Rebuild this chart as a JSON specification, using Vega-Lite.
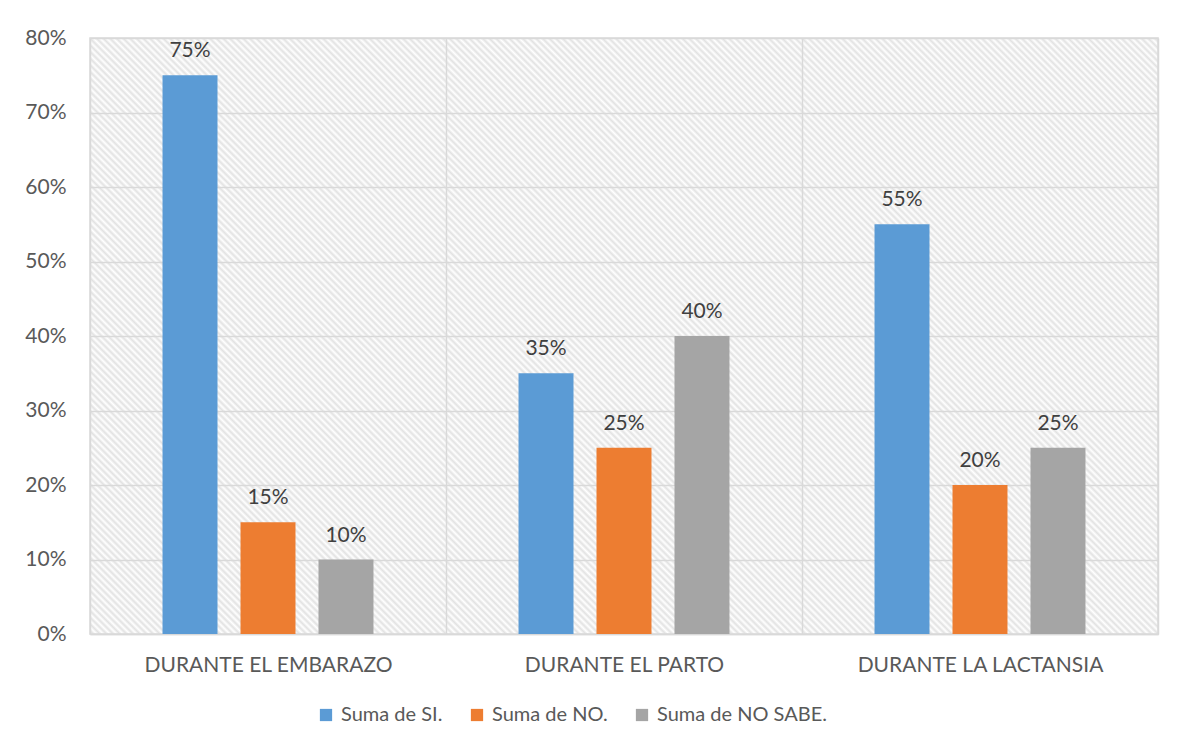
{
  "$schema": "https://vega.github.io/schema/vega-lite/v6.json",
  "width": 1068,
  "height": 596,
  "autosize": {"type": "none"},
  "padding": {"left": 90, "top": 38, "right": 30, "bottom": 119},
  "background": "white",
  "config": {
    "font": "Lato",
    "view": {"stroke": "#d9d9d9", "strokeWidth": 1.5, "fill": {"gradient": "linear", "x1": 0, "y1": 1, "x2": 1.188, "y2": 0.337, "stops": [
{"offset":0,"color":"#fff"},{"offset":0.002,"color":"#e2e2e2"},{"offset":0.004,"color":"#fff"},{"offset":0.006,"color":"#e2e2e2"},{"offset":0.008,"color":"#fff"},{"offset":0.01,"color":"#e2e2e2"},{"offset":0.012,"color":"#fff"},{"offset":0.014,"color":"#e2e2e2"},{"offset":0.016,"color":"#fff"},{"offset":0.018,"color":"#e2e2e2"},
{"offset":0.02,"color":"#fff"},{"offset":0.022,"color":"#e2e2e2"},{"offset":0.024,"color":"#fff"},{"offset":0.026,"color":"#e2e2e2"},{"offset":0.028,"color":"#fff"},{"offset":0.03,"color":"#e2e2e2"},{"offset":0.032,"color":"#fff"},{"offset":0.034,"color":"#e2e2e2"},{"offset":0.036,"color":"#fff"},{"offset":0.038,"color":"#e2e2e2"},
{"offset":0.04,"color":"#fff"},{"offset":0.042,"color":"#e2e2e2"},{"offset":0.044,"color":"#fff"},{"offset":0.046,"color":"#e2e2e2"},{"offset":0.048,"color":"#fff"},{"offset":0.05,"color":"#e2e2e2"},{"offset":0.052,"color":"#fff"},{"offset":0.054,"color":"#e2e2e2"},{"offset":0.056,"color":"#fff"},{"offset":0.058,"color":"#e2e2e2"},
{"offset":0.06,"color":"#fff"},{"offset":0.062,"color":"#e2e2e2"},{"offset":0.064,"color":"#fff"},{"offset":0.066,"color":"#e2e2e2"},{"offset":0.068,"color":"#fff"},{"offset":0.07,"color":"#e2e2e2"},{"offset":0.072,"color":"#fff"},{"offset":0.074,"color":"#e2e2e2"},{"offset":0.076,"color":"#fff"},{"offset":0.078,"color":"#e2e2e2"},
{"offset":0.08,"color":"#fff"},{"offset":0.082,"color":"#e2e2e2"},{"offset":0.084,"color":"#fff"},{"offset":0.086,"color":"#e2e2e2"},{"offset":0.088,"color":"#fff"},{"offset":0.09,"color":"#e2e2e2"},{"offset":0.092,"color":"#fff"},{"offset":0.094,"color":"#e2e2e2"},{"offset":0.096,"color":"#fff"},{"offset":0.098,"color":"#e2e2e2"},
{"offset":0.1,"color":"#fff"},{"offset":0.102,"color":"#e2e2e2"},{"offset":0.104,"color":"#fff"},{"offset":0.106,"color":"#e2e2e2"},{"offset":0.108,"color":"#fff"},{"offset":0.11,"color":"#e2e2e2"},{"offset":0.112,"color":"#fff"},{"offset":0.114,"color":"#e2e2e2"},{"offset":0.116,"color":"#fff"},{"offset":0.118,"color":"#e2e2e2"},
{"offset":0.12,"color":"#fff"},{"offset":0.122,"color":"#e2e2e2"},{"offset":0.124,"color":"#fff"},{"offset":0.126,"color":"#e2e2e2"},{"offset":0.128,"color":"#fff"},{"offset":0.13,"color":"#e2e2e2"},{"offset":0.132,"color":"#fff"},{"offset":0.134,"color":"#e2e2e2"},{"offset":0.136,"color":"#fff"},{"offset":0.138,"color":"#e2e2e2"},
{"offset":0.14,"color":"#fff"},{"offset":0.142,"color":"#e2e2e2"},{"offset":0.144,"color":"#fff"},{"offset":0.146,"color":"#e2e2e2"},{"offset":0.148,"color":"#fff"},{"offset":0.15,"color":"#e2e2e2"},{"offset":0.152,"color":"#fff"},{"offset":0.154,"color":"#e2e2e2"},{"offset":0.156,"color":"#fff"},{"offset":0.158,"color":"#e2e2e2"},
{"offset":0.16,"color":"#fff"},{"offset":0.162,"color":"#e2e2e2"},{"offset":0.164,"color":"#fff"},{"offset":0.166,"color":"#e2e2e2"},{"offset":0.168,"color":"#fff"},{"offset":0.17,"color":"#e2e2e2"},{"offset":0.172,"color":"#fff"},{"offset":0.174,"color":"#e2e2e2"},{"offset":0.176,"color":"#fff"},{"offset":0.178,"color":"#e2e2e2"},
{"offset":0.18,"color":"#fff"},{"offset":0.182,"color":"#e2e2e2"},{"offset":0.184,"color":"#fff"},{"offset":0.186,"color":"#e2e2e2"},{"offset":0.188,"color":"#fff"},{"offset":0.19,"color":"#e2e2e2"},{"offset":0.192,"color":"#fff"},{"offset":0.194,"color":"#e2e2e2"},{"offset":0.196,"color":"#fff"},{"offset":0.198,"color":"#e2e2e2"},
{"offset":0.2,"color":"#fff"},{"offset":0.202,"color":"#e2e2e2"},{"offset":0.204,"color":"#fff"},{"offset":0.206,"color":"#e2e2e2"},{"offset":0.208,"color":"#fff"},{"offset":0.21,"color":"#e2e2e2"},{"offset":0.212,"color":"#fff"},{"offset":0.214,"color":"#e2e2e2"},{"offset":0.216,"color":"#fff"},{"offset":0.218,"color":"#e2e2e2"},
{"offset":0.22,"color":"#fff"},{"offset":0.222,"color":"#e2e2e2"},{"offset":0.224,"color":"#fff"},{"offset":0.226,"color":"#e2e2e2"},{"offset":0.228,"color":"#fff"},{"offset":0.23,"color":"#e2e2e2"},{"offset":0.232,"color":"#fff"},{"offset":0.234,"color":"#e2e2e2"},{"offset":0.236,"color":"#fff"},{"offset":0.238,"color":"#e2e2e2"},
{"offset":0.24,"color":"#fff"},{"offset":0.242,"color":"#e2e2e2"},{"offset":0.244,"color":"#fff"},{"offset":0.246,"color":"#e2e2e2"},{"offset":0.248,"color":"#fff"},{"offset":0.25,"color":"#e2e2e2"},{"offset":0.252,"color":"#fff"},{"offset":0.254,"color":"#e2e2e2"},{"offset":0.256,"color":"#fff"},{"offset":0.258,"color":"#e2e2e2"},
{"offset":0.26,"color":"#fff"},{"offset":0.262,"color":"#e2e2e2"},{"offset":0.264,"color":"#fff"},{"offset":0.266,"color":"#e2e2e2"},{"offset":0.268,"color":"#fff"},{"offset":0.27,"color":"#e2e2e2"},{"offset":0.272,"color":"#fff"},{"offset":0.274,"color":"#e2e2e2"},{"offset":0.276,"color":"#fff"},{"offset":0.278,"color":"#e2e2e2"},
{"offset":0.28,"color":"#fff"},{"offset":0.282,"color":"#e2e2e2"},{"offset":0.284,"color":"#fff"},{"offset":0.286,"color":"#e2e2e2"},{"offset":0.288,"color":"#fff"},{"offset":0.29,"color":"#e2e2e2"},{"offset":0.292,"color":"#fff"},{"offset":0.294,"color":"#e2e2e2"},{"offset":0.296,"color":"#fff"},{"offset":0.298,"color":"#e2e2e2"},
{"offset":0.3,"color":"#fff"},{"offset":0.302,"color":"#e2e2e2"},{"offset":0.304,"color":"#fff"},{"offset":0.306,"color":"#e2e2e2"},{"offset":0.308,"color":"#fff"},{"offset":0.31,"color":"#e2e2e2"},{"offset":0.312,"color":"#fff"},{"offset":0.314,"color":"#e2e2e2"},{"offset":0.316,"color":"#fff"},{"offset":0.318,"color":"#e2e2e2"},
{"offset":0.32,"color":"#fff"},{"offset":0.322,"color":"#e2e2e2"},{"offset":0.324,"color":"#fff"},{"offset":0.326,"color":"#e2e2e2"},{"offset":0.328,"color":"#fff"},{"offset":0.33,"color":"#e2e2e2"},{"offset":0.332,"color":"#fff"},{"offset":0.334,"color":"#e2e2e2"},{"offset":0.336,"color":"#fff"},{"offset":0.338,"color":"#e2e2e2"},
{"offset":0.34,"color":"#fff"},{"offset":0.342,"color":"#e2e2e2"},{"offset":0.344,"color":"#fff"},{"offset":0.346,"color":"#e2e2e2"},{"offset":0.348,"color":"#fff"},{"offset":0.35,"color":"#e2e2e2"},{"offset":0.352,"color":"#fff"},{"offset":0.354,"color":"#e2e2e2"},{"offset":0.356,"color":"#fff"},{"offset":0.358,"color":"#e2e2e2"},
{"offset":0.36,"color":"#fff"},{"offset":0.362,"color":"#e2e2e2"},{"offset":0.364,"color":"#fff"},{"offset":0.366,"color":"#e2e2e2"},{"offset":0.368,"color":"#fff"},{"offset":0.37,"color":"#e2e2e2"},{"offset":0.372,"color":"#fff"},{"offset":0.374,"color":"#e2e2e2"},{"offset":0.376,"color":"#fff"},{"offset":0.378,"color":"#e2e2e2"},
{"offset":0.38,"color":"#fff"},{"offset":0.382,"color":"#e2e2e2"},{"offset":0.384,"color":"#fff"},{"offset":0.386,"color":"#e2e2e2"},{"offset":0.388,"color":"#fff"},{"offset":0.39,"color":"#e2e2e2"},{"offset":0.392,"color":"#fff"},{"offset":0.394,"color":"#e2e2e2"},{"offset":0.396,"color":"#fff"},{"offset":0.398,"color":"#e2e2e2"},
{"offset":0.4,"color":"#fff"},{"offset":0.402,"color":"#e2e2e2"},{"offset":0.404,"color":"#fff"},{"offset":0.406,"color":"#e2e2e2"},{"offset":0.408,"color":"#fff"},{"offset":0.41,"color":"#e2e2e2"},{"offset":0.412,"color":"#fff"},{"offset":0.414,"color":"#e2e2e2"},{"offset":0.416,"color":"#fff"},{"offset":0.418,"color":"#e2e2e2"},
{"offset":0.42,"color":"#fff"},{"offset":0.422,"color":"#e2e2e2"},{"offset":0.424,"color":"#fff"},{"offset":0.426,"color":"#e2e2e2"},{"offset":0.428,"color":"#fff"},{"offset":0.43,"color":"#e2e2e2"},{"offset":0.432,"color":"#fff"},{"offset":0.434,"color":"#e2e2e2"},{"offset":0.436,"color":"#fff"},{"offset":0.438,"color":"#e2e2e2"},
{"offset":0.44,"color":"#fff"},{"offset":0.442,"color":"#e2e2e2"},{"offset":0.444,"color":"#fff"},{"offset":0.446,"color":"#e2e2e2"},{"offset":0.448,"color":"#fff"},{"offset":0.45,"color":"#e2e2e2"},{"offset":0.452,"color":"#fff"},{"offset":0.454,"color":"#e2e2e2"},{"offset":0.456,"color":"#fff"},{"offset":0.458,"color":"#e2e2e2"},
{"offset":0.46,"color":"#fff"},{"offset":0.462,"color":"#e2e2e2"},{"offset":0.464,"color":"#fff"},{"offset":0.466,"color":"#e2e2e2"},{"offset":0.468,"color":"#fff"},{"offset":0.47,"color":"#e2e2e2"},{"offset":0.472,"color":"#fff"},{"offset":0.474,"color":"#e2e2e2"},{"offset":0.476,"color":"#fff"},{"offset":0.478,"color":"#e2e2e2"},
{"offset":0.48,"color":"#fff"},{"offset":0.482,"color":"#e2e2e2"},{"offset":0.484,"color":"#fff"},{"offset":0.486,"color":"#e2e2e2"},{"offset":0.488,"color":"#fff"},{"offset":0.49,"color":"#e2e2e2"},{"offset":0.492,"color":"#fff"},{"offset":0.494,"color":"#e2e2e2"},{"offset":0.496,"color":"#fff"},{"offset":0.498,"color":"#e2e2e2"},
{"offset":0.5,"color":"#fff"},{"offset":0.502,"color":"#e2e2e2"},{"offset":0.504,"color":"#fff"},{"offset":0.506,"color":"#e2e2e2"},{"offset":0.508,"color":"#fff"},{"offset":0.51,"color":"#e2e2e2"},{"offset":0.512,"color":"#fff"},{"offset":0.514,"color":"#e2e2e2"},{"offset":0.516,"color":"#fff"},{"offset":0.518,"color":"#e2e2e2"},
{"offset":0.52,"color":"#fff"},{"offset":0.522,"color":"#e2e2e2"},{"offset":0.524,"color":"#fff"},{"offset":0.526,"color":"#e2e2e2"},{"offset":0.528,"color":"#fff"},{"offset":0.53,"color":"#e2e2e2"},{"offset":0.532,"color":"#fff"},{"offset":0.534,"color":"#e2e2e2"},{"offset":0.536,"color":"#fff"},{"offset":0.538,"color":"#e2e2e2"},
{"offset":0.54,"color":"#fff"},{"offset":0.542,"color":"#e2e2e2"},{"offset":0.544,"color":"#fff"},{"offset":0.546,"color":"#e2e2e2"},{"offset":0.548,"color":"#fff"},{"offset":0.55,"color":"#e2e2e2"},{"offset":0.552,"color":"#fff"},{"offset":0.554,"color":"#e2e2e2"},{"offset":0.556,"color":"#fff"},{"offset":0.558,"color":"#e2e2e2"},
{"offset":0.56,"color":"#fff"},{"offset":0.562,"color":"#e2e2e2"},{"offset":0.564,"color":"#fff"},{"offset":0.566,"color":"#e2e2e2"},{"offset":0.568,"color":"#fff"},{"offset":0.57,"color":"#e2e2e2"},{"offset":0.572,"color":"#fff"},{"offset":0.574,"color":"#e2e2e2"},{"offset":0.576,"color":"#fff"},{"offset":0.578,"color":"#e2e2e2"},
{"offset":0.58,"color":"#fff"},{"offset":0.582,"color":"#e2e2e2"},{"offset":0.584,"color":"#fff"},{"offset":0.586,"color":"#e2e2e2"},{"offset":0.588,"color":"#fff"},{"offset":0.59,"color":"#e2e2e2"},{"offset":0.592,"color":"#fff"},{"offset":0.594,"color":"#e2e2e2"},{"offset":0.596,"color":"#fff"},{"offset":0.598,"color":"#e2e2e2"},
{"offset":0.6,"color":"#fff"},{"offset":0.602,"color":"#e2e2e2"},{"offset":0.604,"color":"#fff"},{"offset":0.606,"color":"#e2e2e2"},{"offset":0.608,"color":"#fff"},{"offset":0.61,"color":"#e2e2e2"},{"offset":0.612,"color":"#fff"},{"offset":0.614,"color":"#e2e2e2"},{"offset":0.616,"color":"#fff"},{"offset":0.618,"color":"#e2e2e2"},
{"offset":0.62,"color":"#fff"},{"offset":0.622,"color":"#e2e2e2"},{"offset":0.624,"color":"#fff"},{"offset":0.626,"color":"#e2e2e2"},{"offset":0.628,"color":"#fff"},{"offset":0.63,"color":"#e2e2e2"},{"offset":0.632,"color":"#fff"},{"offset":0.634,"color":"#e2e2e2"},{"offset":0.636,"color":"#fff"},{"offset":0.638,"color":"#e2e2e2"},
{"offset":0.64,"color":"#fff"},{"offset":0.642,"color":"#e2e2e2"},{"offset":0.644,"color":"#fff"},{"offset":0.646,"color":"#e2e2e2"},{"offset":0.648,"color":"#fff"},{"offset":0.65,"color":"#e2e2e2"},{"offset":0.652,"color":"#fff"},{"offset":0.654,"color":"#e2e2e2"},{"offset":0.656,"color":"#fff"},{"offset":0.658,"color":"#e2e2e2"},
{"offset":0.66,"color":"#fff"},{"offset":0.662,"color":"#e2e2e2"},{"offset":0.664,"color":"#fff"},{"offset":0.666,"color":"#e2e2e2"},{"offset":0.668,"color":"#fff"},{"offset":0.67,"color":"#e2e2e2"},{"offset":0.672,"color":"#fff"},{"offset":0.674,"color":"#e2e2e2"},{"offset":0.676,"color":"#fff"},{"offset":0.678,"color":"#e2e2e2"},
{"offset":0.68,"color":"#fff"},{"offset":0.682,"color":"#e2e2e2"},{"offset":0.684,"color":"#fff"},{"offset":0.686,"color":"#e2e2e2"},{"offset":0.688,"color":"#fff"},{"offset":0.69,"color":"#e2e2e2"},{"offset":0.692,"color":"#fff"},{"offset":0.694,"color":"#e2e2e2"},{"offset":0.696,"color":"#fff"},{"offset":0.698,"color":"#e2e2e2"},
{"offset":0.7,"color":"#fff"},{"offset":0.702,"color":"#e2e2e2"},{"offset":0.704,"color":"#fff"},{"offset":0.706,"color":"#e2e2e2"},{"offset":0.708,"color":"#fff"},{"offset":0.71,"color":"#e2e2e2"},{"offset":0.712,"color":"#fff"},{"offset":0.714,"color":"#e2e2e2"},{"offset":0.716,"color":"#fff"},{"offset":0.718,"color":"#e2e2e2"},
{"offset":0.72,"color":"#fff"},{"offset":0.722,"color":"#e2e2e2"},{"offset":0.724,"color":"#fff"},{"offset":0.726,"color":"#e2e2e2"},{"offset":0.728,"color":"#fff"},{"offset":0.73,"color":"#e2e2e2"},{"offset":0.732,"color":"#fff"},{"offset":0.734,"color":"#e2e2e2"},{"offset":0.736,"color":"#fff"},{"offset":0.738,"color":"#e2e2e2"},
{"offset":0.74,"color":"#fff"},{"offset":0.742,"color":"#e2e2e2"},{"offset":0.744,"color":"#fff"},{"offset":0.746,"color":"#e2e2e2"},{"offset":0.748,"color":"#fff"},{"offset":0.75,"color":"#e2e2e2"},{"offset":0.752,"color":"#fff"},{"offset":0.754,"color":"#e2e2e2"},{"offset":0.756,"color":"#fff"},{"offset":0.758,"color":"#e2e2e2"},
{"offset":0.76,"color":"#fff"},{"offset":0.762,"color":"#e2e2e2"},{"offset":0.764,"color":"#fff"},{"offset":0.766,"color":"#e2e2e2"},{"offset":0.768,"color":"#fff"},{"offset":0.77,"color":"#e2e2e2"},{"offset":0.772,"color":"#fff"},{"offset":0.774,"color":"#e2e2e2"},{"offset":0.776,"color":"#fff"},{"offset":0.778,"color":"#e2e2e2"},
{"offset":0.78,"color":"#fff"},{"offset":0.782,"color":"#e2e2e2"},{"offset":0.784,"color":"#fff"},{"offset":0.786,"color":"#e2e2e2"},{"offset":0.788,"color":"#fff"},{"offset":0.79,"color":"#e2e2e2"},{"offset":0.792,"color":"#fff"},{"offset":0.794,"color":"#e2e2e2"},{"offset":0.796,"color":"#fff"},{"offset":0.798,"color":"#e2e2e2"},
{"offset":0.8,"color":"#fff"},{"offset":0.802,"color":"#e2e2e2"},{"offset":0.804,"color":"#fff"},{"offset":0.806,"color":"#e2e2e2"},{"offset":0.808,"color":"#fff"},{"offset":0.81,"color":"#e2e2e2"},{"offset":0.812,"color":"#fff"},{"offset":0.814,"color":"#e2e2e2"},{"offset":0.816,"color":"#fff"},{"offset":0.818,"color":"#e2e2e2"},
{"offset":0.82,"color":"#fff"},{"offset":0.822,"color":"#e2e2e2"},{"offset":0.824,"color":"#fff"},{"offset":0.826,"color":"#e2e2e2"},{"offset":0.828,"color":"#fff"},{"offset":0.83,"color":"#e2e2e2"},{"offset":0.832,"color":"#fff"},{"offset":0.834,"color":"#e2e2e2"},{"offset":0.836,"color":"#fff"},{"offset":0.838,"color":"#e2e2e2"},
{"offset":0.84,"color":"#fff"},{"offset":0.842,"color":"#e2e2e2"},{"offset":0.844,"color":"#fff"},{"offset":0.846,"color":"#e2e2e2"},{"offset":0.848,"color":"#fff"},{"offset":0.85,"color":"#e2e2e2"},{"offset":0.852,"color":"#fff"},{"offset":0.854,"color":"#e2e2e2"},{"offset":0.856,"color":"#fff"},{"offset":0.858,"color":"#e2e2e2"},
{"offset":0.86,"color":"#fff"},{"offset":0.862,"color":"#e2e2e2"},{"offset":0.864,"color":"#fff"},{"offset":0.866,"color":"#e2e2e2"},{"offset":0.868,"color":"#fff"},{"offset":0.87,"color":"#e2e2e2"},{"offset":0.872,"color":"#fff"},{"offset":0.874,"color":"#e2e2e2"},{"offset":0.876,"color":"#fff"},{"offset":0.878,"color":"#e2e2e2"},
{"offset":0.88,"color":"#fff"},{"offset":0.882,"color":"#e2e2e2"},{"offset":0.884,"color":"#fff"},{"offset":0.886,"color":"#e2e2e2"},{"offset":0.888,"color":"#fff"},{"offset":0.89,"color":"#e2e2e2"},{"offset":0.892,"color":"#fff"},{"offset":0.894,"color":"#e2e2e2"},{"offset":0.896,"color":"#fff"},{"offset":0.898,"color":"#e2e2e2"},
{"offset":0.9,"color":"#fff"},{"offset":0.902,"color":"#e2e2e2"},{"offset":0.904,"color":"#fff"},{"offset":0.906,"color":"#e2e2e2"},{"offset":0.908,"color":"#fff"},{"offset":0.91,"color":"#e2e2e2"},{"offset":0.912,"color":"#fff"},{"offset":0.914,"color":"#e2e2e2"},{"offset":0.916,"color":"#fff"},{"offset":0.918,"color":"#e2e2e2"},
{"offset":0.92,"color":"#fff"},{"offset":0.922,"color":"#e2e2e2"},{"offset":0.924,"color":"#fff"},{"offset":0.926,"color":"#e2e2e2"},{"offset":0.928,"color":"#fff"},{"offset":0.93,"color":"#e2e2e2"},{"offset":0.932,"color":"#fff"},{"offset":0.934,"color":"#e2e2e2"},{"offset":0.936,"color":"#fff"},{"offset":0.938,"color":"#e2e2e2"},
{"offset":0.94,"color":"#fff"},{"offset":0.942,"color":"#e2e2e2"},{"offset":0.944,"color":"#fff"},{"offset":0.946,"color":"#e2e2e2"},{"offset":0.948,"color":"#fff"},{"offset":0.95,"color":"#e2e2e2"},{"offset":0.952,"color":"#fff"},{"offset":0.954,"color":"#e2e2e2"},{"offset":0.956,"color":"#fff"},{"offset":0.958,"color":"#e2e2e2"},
{"offset":0.96,"color":"#fff"},{"offset":0.962,"color":"#e2e2e2"},{"offset":0.964,"color":"#fff"},{"offset":0.966,"color":"#e2e2e2"},{"offset":0.968,"color":"#fff"},{"offset":0.97,"color":"#e2e2e2"},{"offset":0.972,"color":"#fff"},{"offset":0.974,"color":"#e2e2e2"},{"offset":0.976,"color":"#fff"},{"offset":0.978,"color":"#e2e2e2"},
{"offset":0.98,"color":"#fff"},{"offset":0.982,"color":"#e2e2e2"},{"offset":0.984,"color":"#fff"},{"offset":0.986,"color":"#e2e2e2"},{"offset":0.988,"color":"#fff"},{"offset":0.99,"color":"#e2e2e2"},{"offset":0.992,"color":"#fff"},{"offset":0.994,"color":"#e2e2e2"},{"offset":0.996,"color":"#fff"},{"offset":0.998,"color":"#e2e2e2"},
{"offset":1,"color":"#fff"}
]}}
  },
  "data": {
    "values": [
      {"momento": "DURANTE EL EMBARAZO", "serie": "Suma de SI.", "valor": 0.75},
      {"momento": "DURANTE EL EMBARAZO", "serie": "Suma de NO.", "valor": 0.15},
      {"momento": "DURANTE EL EMBARAZO", "serie": "Suma de NO SABE.", "valor": 0.10},
      {"momento": "DURANTE EL PARTO", "serie": "Suma de SI.", "valor": 0.35},
      {"momento": "DURANTE EL PARTO", "serie": "Suma de NO.", "valor": 0.25},
      {"momento": "DURANTE EL PARTO", "serie": "Suma de NO SABE.", "valor": 0.40},
      {"momento": "DURANTE LA LACTANSIA", "serie": "Suma de SI.", "valor": 0.55},
      {"momento": "DURANTE LA LACTANSIA", "serie": "Suma de NO.", "valor": 0.20},
      {"momento": "DURANTE LA LACTANSIA", "serie": "Suma de NO SABE.", "valor": 0.25}
    ]
  },
  "encoding": {
    "x": {
      "field": "momento", "type": "nominal", "sort": null,
      "scale": {"paddingInner": 0, "paddingOuter": 0},
      "axis": {
        "title": null, "labelAngle": 0, "labelFontSize": 21, "labelColor": "#595959", "labelLimit": 0,
        "labelPadding": 20, "ticks": false, "domain": true, "domainColor": "#d9d9d9", "domainWidth": 1.5,
        "grid": true, "gridColor": "#d9d9d9", "gridWidth": 1.5, "tickBand": "extent"
      }
    },
    "xOffset": {
      "field": "serie", "type": "nominal",
      "sort": ["Suma de SI.", "Suma de NO.", "Suma de NO SABE."],
      "scale": {"paddingInner": 0.295, "paddingOuter": 0.93}
    },
    "y": {
      "field": "valor", "type": "quantitative",
      "scale": {"domain": [0, 0.8], "nice": false},
      "axis": {
        "title": null, "values": [0, 0.1, 0.2, 0.3, 0.4, 0.5, 0.6, 0.7, 0.8], "format": ".0%",
        "labelFontSize": 21, "labelColor": "#595959", "labelPadding": 24,
        "ticks": false, "domain": false, "grid": true, "gridColor": "#d9d9d9", "gridWidth": 1.5
      }
    }
  },
  "layer": [
    {
      "mark": {"type": "bar"},
      "encoding": {
        "color": {
          "field": "serie", "type": "nominal",
          "sort": ["Suma de SI.", "Suma de NO.", "Suma de NO SABE."],
          "scale": {"domain": ["Suma de SI.", "Suma de NO.", "Suma de NO SABE."], "range": ["#5b9bd5", "#ed7d31", "#a5a5a5"]},
          "legend": {
            "title": null, "orient": "none", "legendX": 226, "legendY": 667, "direction": "horizontal", "symbolType": "square",
            "symbolSize": 150, "symbolStrokeWidth": 0, "labelFontSize": 20, "labelColor": "#595959", "labelLimit": 0,
            "columnPadding": 24, "labelOffset": 5
          }
        }
      }
    },
    {
      "mark": {"type": "text", "baseline": "alphabetic", "dy": -18, "fontSize": 21, "color": "#404040"},
      "encoding": {
        "text": {"field": "valor", "type": "quantitative", "format": ".0%"}
      }
    }
  ]
}
